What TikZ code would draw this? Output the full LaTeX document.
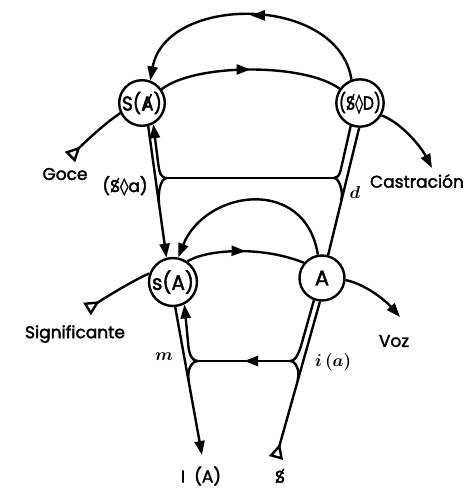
\documentclass[tikz,border=0pt]{standalone}
\usepackage{fontspec}
\setmainfont{Poppins}[FakeBold=2]
\newfontfamily\dejavu{DejaVu Sans}[FakeBold=1.5]
\usetikzlibrary{arrows.meta,decorations.markings}
\newcommand{\barredS}{\ooalign{S\cr\hidewidth\raisebox{0.36em}{\rotatebox[origin=c]{62}{\rule{0.95em}{0.08em}}}\hidewidth\cr}}
\newcommand{\barredA}{\ooalign{A\cr\hidewidth\raisebox{0.36em}{\rotatebox[origin=c]{62}{\rule{0.95em}{0.08em}}}\hidewidth\cr}}
\newcommand{\loz}{{\dejavu ◊}}
\begin{document}
\begin{tikzpicture}[x=1pt,y=-1pt,line width=2.4pt,
  circ/.style={circle,draw,line width=2.4pt,minimum size=45pt,inner sep=0pt},
  lab/.style={inner sep=0pt,font=\fontsize{17}{17}\selectfont},
  mlab/.style={inner sep=0pt,font=\fontsize{19}{19}\selectfont\boldmath},
  tipend/.style={-{Triangle[length=14pt,width=10pt]}},
  tristart/.style={{Triangle[open,reversed,length=15pt,width=14pt]}-},
  midarr/.style={postaction={decorate},decoration={markings,mark=at position #1 with {\arrow{Triangle[length=14pt,width=10pt]}}}}
]
\useasboundingbox (0,0) rectangle (474,491);
\fill[white] (0,0) rectangle (474,491);

% main nodes
\node[circ] (SA) at (142,103) {\scalebox{0.92}[1]{\fontsize{20}{20}\selectfont S(\barredA)}};
\node[circ] (SD) at (360,103) {\scalebox{0.82}[1]{\fontsize{19}{19}\selectfont (\barredS\loz D)}};
\node[circ] (sA) at (173,282) {\scalebox{0.95}[1]{\fontsize{21}{21}\selectfont s(A)}};
\node[circ] (A) at (322,278) {\fontsize{21}{21}\selectfont A};

% free ends
\coordinate (GoT) at (70,157);
\coordinate (CaE) at (432,168);
\coordinate (SiT) at (87,309);
\coordinate (VoE) at (400,317);
\coordinate (IAE) at (202,455);
\coordinate (SbT) at (276,458);

% fork points
\coordinate (Lf) at (167,178);
\coordinate (Rf) at (334,178);
\coordinate (Lf2) at (198,361);
\coordinate (Rf2) at (290,361);

% top arcs
\draw[tipend,midarr=0.5] (SD.110) .. controls (338,-6) and (166,-6) .. (SA.70);
\draw[midarr=0.5] (SA.35) .. controls (195,63) and (305,63) .. (SD.145);

% lower arcs
\draw[tipend] (A.100) .. controls (305,175) and (205,190) .. (sA.78);
\draw[midarr=0.5] (sA.55) .. controls (205,250) and (260,245) .. (A.140);

% verticals
\draw[tipend] (SA.285) -- (sA.105);
\draw[tipend] (sA.275) -- (IAE);
\draw (SD.268) -- (A.75);
\draw[tristart] (SbT) -- (A.265);

% upper forks
\draw (Lf) -- (Rf);
\draw[tipend] (Lf) .. controls +(-7,0) and +(1.4,10) .. (158,162) -- (SA.298);
\draw (Lf) .. controls +(-7,0) and +(-1.1,-9) .. (159,203);
\draw (Rf) .. controls +(6,0) and +(-2.4,10) .. (343,160) -- (SD.248);
\draw (Rf) .. controls +(5,0) and +(2.2,-9) .. (341.3,200);

% lower forks
\draw[midarr=0.5] (Rf2) -- (Lf2);
\draw[tipend] (Lf2) .. controls +(-7,0) and +(0.5,10) .. (188,342) -- (sA.297);
\draw (Lf2) .. controls +(-7,0) and +(-1.6,-9) .. (188.6,380);
\draw (Rf2) .. controls +(7,0) and +(-2.8,10) .. (303,339) -- (A.250);
\draw (Rf2) .. controls +(6,0) and +(2.5,-9) .. (297.7,380);

% outgoing
\draw[tristart] (GoT) .. controls (84,143) and (104,124) .. (SA.205);
\draw[tipend] (SD.330) .. controls (400,122) and (420,145) .. (CaE);
\draw[tristart] (SiT) .. controls (105,298) and (130,282) .. (sA.160);
\draw[tipend] (A.355) .. controls (365,284) and (385,300) .. (VoE);

% labels
\node[lab] (goce) at (65,174) {Goce};
\node[lab] (sda) at (125,186) {(\barredS\loz a)};
\node[lab] (cast) at (417,181) {Castración};
\node[mlab] (dl) at (355,192) {$d$};
\node[lab] (sig) at (75,334) {Significante};
\node[mlab] (ml) at (164,357) {$m$};
\node[lab] (voz) at (394,341) {Voz};
\node[mlab] (ial) at (333,362) {$i\,(a)$};
\node[lab] (IAl) at (201,476) {I\ \ (A)};
\node[lab] (Sbl) at (280,477) {\barredS};
\end{tikzpicture}
\end{document}
